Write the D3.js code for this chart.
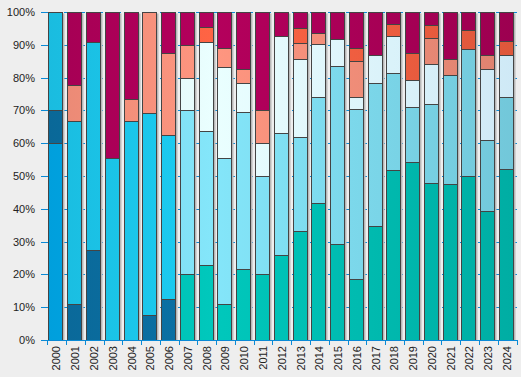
<!DOCTYPE html>
<html>
<head>
<meta charset="utf-8">
<script src="https://cdn.jsdelivr.net/npm/d3@7"></script>
<style>
  body { margin: 0; background: #eeeeee; }
  svg { display: block; font-family: "Liberation Sans", Arial, sans-serif; }
</style>
</head>
<body>
<div id="chart_area"></div>
<script>
var width = 521, height = 377;

var years = ["2000", "2001", "2002", "2003", "2004", "2005", "2006", "2007", "2008", "2009",
    "2010", "2011", "2012", "2013", "2014", "2015", "2016", "2017", "2018", "2019",
    "2020", "2021", "2022", "2023", "2024"];

// shares in %, one value per year, bottom of the stack first
var blue     = [60, 0, 0, 0, 0, 0, 0, 0, 0, 0, 0, 0, 0, 0, 0, 0, 0, 0, 0, 0, 0, 0, 0, 0, 0];
var darkBlue = [10, 11.1, 27.3, 0, 0, 7.7, 12.5, 0, 0, 0, 0, 0, 0, 0, 0, 0, 0, 0, 0, 0, 0, 0, 0, 0, 0];
var teal     = [0, 0, 0, 0, 0, 0, 0, 20, 22.7, 11.1, 21.7, 20, 25.9, 33.3, 41.9, 29.2, 18.5, 34.8, 51.9, 54.2, 48, 47.6, 50, 39.1, 52.2];
var cyan     = [30, 55.6, 63.6, 55.6, 66.7, 61.5, 50, 0, 0, 0, 0, 0, 0, 0, 0, 0, 0, 0, 0, 0, 0, 0, 0, 0, 0];
var lightBlue = [0, 0, 0, 0, 0, 0, 0, 50, 40.9, 44.4, 47.8, 30, 37, 28.6, 32.3, 54.2, 51.9, 43.5, 29.6, 16.7, 24, 33.3, 38.9, 21.7, 21.7];
var pale     = [0, 0, 0, 0, 0, 0, 0, 10, 27.3, 27.8, 8.7, 10, 29.6, 23.8, 16.1, 8.3, 3.7, 8.7, 11.1, 8.3, 12, 0, 0, 21.7, 13];
var salmon   = [0, 11.1, 0, 0, 6.7, 30.8, 25, 10, 0, 5.6, 4.3, 10, 0, 4.8, 3.2, 0, 11.1, 0, 0, 0, 8, 4.8, 0, 4.3, 0];
var orange   = [0, 0, 0, 0, 0, 0, 0, 0, 4.5, 0, 0, 0, 0, 4.8, 0, 0, 3.7, 0, 3.7, 8.3, 4, 0, 5.6, 0, 4.3];
var crimson  = [0, 22.2, 9.1, 44.4, 26.7, 0, 12.5, 10, 4.5, 11.1, 17.4, 30, 7.4, 4.8, 6.5, 8.3, 11.1, 13, 3.7, 12.5, 4, 14.3, 5.6, 13, 8.7];

var yTicks = [0, 10, 20, 30, 40, 50, 60, 70, 80, 90, 100];

var seriesKeys = ["blue", "darkBlue", "teal", "cyan", "lightBlue", "pale", "salmon", "orange", "crimson"];
var seriesValues = [blue, darkBlue, teal, cyan, lightBlue, pale, salmon, orange, crimson];
var colours = ["#00aef0", "#0b72a6", "#00c8bc", "#1ccef4", "#84e6fa", "#eaffff", "#ff9680", "#ff6444", "#b4005c"];
// colour at the right end of the chart (defaults to a darker version)
var rightColours = { 5: "#cfe9f6" };

var table = years.map(function (yr, i) {
    var row = { year: yr };
    seriesKeys.forEach(function (k, j) { row[k] = seriesValues[j][i]; });
    return row;
});

var stacked = d3.stack().keys(seriesKeys).offset(d3.stackOffsetExpand)(table);

var svg = d3.select("#chart_area")
    .append("svg")
    .attr("width", width)
    .attr("height", height);

// gradients: slightly darker toward both ends of the chart
var defs = svg.append("defs");
colours.forEach(function (c, i) {
    var g = defs.append("linearGradient")
        .attr("id", "grad" + i)
        .attr("gradientUnits", "userSpaceOnUse")
        .attr("x1", 47).attr("x2", 517).attr("y1", 0).attr("y2", 0);
    g.append("stop").attr("offset", 0).attr("stop-color", d3.color(c).darker(0.25));
    g.append("stop").attr("offset", 0.35).attr("stop-color", c);
    g.append("stop").attr("offset", 1).attr("stop-color", rightColours[i] || d3.color(c).darker(0.4));
});

var x = d3.scaleBand()
    .domain(years)
    .range([47.2, 516.5])
    .padding(0);

var y = d3.scaleLinear()
    .domain([0, 100])
    .range([340, 12]);

function py(v) { return Math.round(y(v)) + 0.5; }

var axisBlue = "#0a8ad6";

// grid lines
svg.append("g")
    .selectAll("line")
    .data(yTicks)
    .enter()
    .append("line")
    .attr("x1", 46).attr("x2", 518)
    .attr("y1", function (d) { return py(d); })
    .attr("y2", function (d) { return py(d); })
    .attr("stroke", axisBlue)
    .attr("stroke-dasharray", "3,3");

// y ticks + labels
var yAxis = svg.append("g");
yAxis.selectAll("line")
    .data(yTicks)
    .enter()
    .append("line")
    .attr("x1", 41).attr("x2", 46)
    .attr("y1", function (d) { return py(d); })
    .attr("y2", function (d) { return py(d); })
    .attr("stroke", axisBlue);
yAxis.selectAll("text")
    .data(yTicks)
    .enter()
    .append("text")
    .attr("x", 35)
    .attr("y", function (d) { return py(d); })
    .attr("dy", "0.35em")
    .attr("text-anchor", "end")
    .attr("font-size", 11)
    .attr("fill", "#222")
    .text(function (d) { return d + "%"; });

function barX(yr) { return Math.round(x(yr) + 1.3) + 0.5; }
var barW = 14;

// shadows
svg.append("g")
    .selectAll("rect")
    .data(years)
    .enter()
    .append("rect")
    .attr("x", function (d) { return barX(d) + 2; })
    .attr("y", py(100) + 1)
    .attr("width", barW)
    .attr("height", py(0) - py(100) - 1)
    .attr("fill", "#b8b8b8");

// bars (skip empty segments, incl. float leftovers)
svg.append("g")
    .selectAll("g")
    .data(stacked)
    .enter()
    .append("g")
    .attr("fill", function (d, i) { return "url(#grad" + i + ")"; })
    .selectAll("rect")
    .data(function (d) { return d.filter(function (p) { return p[1] - p[0] > 1e-6; }); })
    .enter()
    .append("rect")
    .attr("x", function (d) { return barX(d.data.year); })
    .attr("y", function (d) { return py(d[1] * 100); })
    .attr("width", barW)
    .attr("height", function (d) { return py(d[0] * 100) - py(d[1] * 100); })
    .attr("stroke", "#444")
    .attr("stroke-width", 1);

// x axis
var xAxis = svg.append("g");
xAxis.append("line")
    .attr("x1", 44).attr("x2", 518)
    .attr("y1", py(0)).attr("y2", py(0))
    .attr("stroke", axisBlue);
xAxis.selectAll(".tick")
    .data(years.concat(["end"]))
    .enter()
    .append("line")
    .attr("x1", function (d) { var p = d === "end" ? x.range()[1] : x(d); return Math.round(p) + 0.5; })
    .attr("x2", function (d) { var p = d === "end" ? x.range()[1] : x(d); return Math.round(p) + 0.5; })
    .attr("y1", 340).attr("y2", 345)
    .attr("stroke", axisBlue);
xAxis.selectAll("text")
    .data(years)
    .enter()
    .append("text")
    .attr("transform", function (d) {
        return "translate(" + (barX(d) + barW / 2 + 1) + ",346)rotate(-90)";
    })
    .attr("dy", "0.35em")
    .attr("text-anchor", "end")
    .attr("font-size", 11)
    .attr("fill", "#222")
    .text(function (d) { return d; });
</script>
</body>
</html>
